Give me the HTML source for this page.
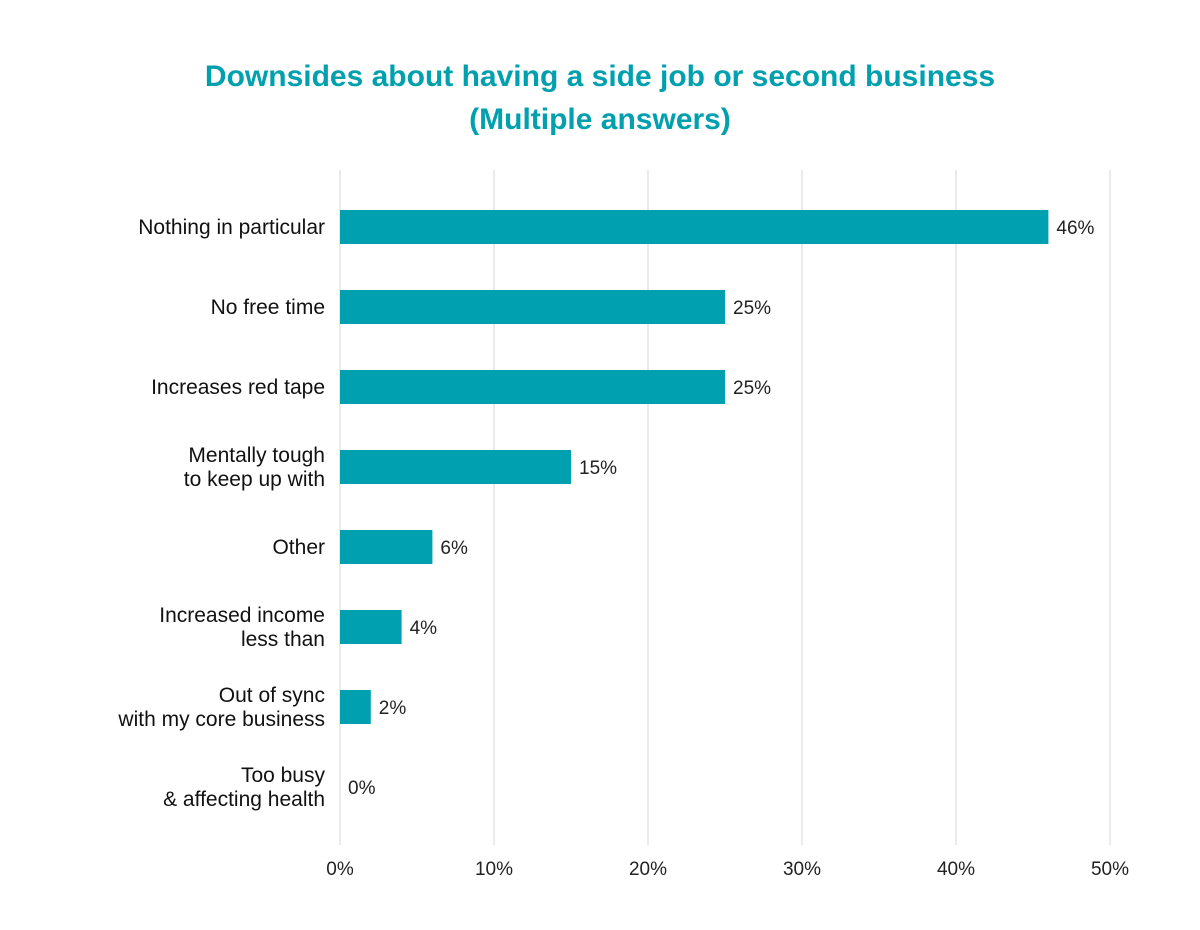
<!DOCTYPE html>
<html><head><meta charset="utf-8"><style>
html,body{margin:0;padding:0;background:#fff;}
svg{display:block;font-family:"Liberation Sans",Arial,sans-serif;}
</style></head><body>
<svg id="chart" width="1200" height="930" viewBox="0 0 1200 930" xmlns="http://www.w3.org/2000/svg">
<text x="600" y="86" text-anchor="middle" font-size="30" font-weight="bold" fill="#00a0ae">Downsides about having a side job or second business</text>
<text x="600" y="129" text-anchor="middle" font-size="30" font-weight="bold" fill="#00a0ae">(Multiple answers)</text>
<g id="grid"></g>
<g id="bars"></g>
<g id="xticks"></g>
</svg>
<script>
const categories = [["Nothing in particular"],["No free time"],["Increases red tape"],["Mentally tough","to keep up with"],["Other"],["Increased income","less than"],["Out of sync","with my core business"],["Too busy","& affecting health"]];
const values = [46,25,25,15,6,4,2,0];
const valueLabels = ["46%","25%","25%","15%","6%","4%","2%","0%"];
const ticks = [0,10,20,30,40,50];
const tickLabels = ["0%","10%","20%","30%","40%","50%"];

const NS="http://www.w3.org/2000/svg";
const x0=340, x1=1110, xmax=50;
const xs=v=>x0+(v/xmax)*(x1-x0);
const yTop=187, step=80, barH=34;
const yc=i=>yTop+step*i+step/2;
function mk(tag,attrs,parent){const e=document.createElementNS(NS,tag);for(const k in attrs)e.setAttribute(k,attrs[k]);parent.appendChild(e);return e;}
const grid=document.getElementById('grid'),bars=document.getElementById('bars'),xt=document.getElementById('xticks');
ticks.forEach((t,i)=>{
  const l=mk('line',{x1:xs(t),x2:xs(t),y1:170,y2:845,stroke:'#e3e3e3','stroke-width':1.5},grid);
  
  
  const tx=mk('text',{x:xs(t),y:875,'text-anchor':'middle','font-size':19,fill:'#222'},xt);
  tx.textContent=tickLabels[i];
  
  
});
values.forEach((v,i)=>{
  const c=yc(i);
  const r=mk('rect',{x:x0,y:c-barH/2,width:xs(v)-x0,height:barH,fill:'#00a0b0'},bars);
  
  
  const vl=mk('text',{x:xs(v)+(v>0?8:8),y:c+7,'font-size':19,fill:'#222'},bars);
  vl.textContent=valueLabels[i];
  
  
  const lines=categories[i];
  lines.forEach((s,j)=>{
    const dy=lines.length===1?7:(j===0?-5:19);
    const t=mk('text',{x:325,y:c+dy,'text-anchor':'end','font-size':21,fill:'#111'},bars);
    t.textContent=s;
    
    
  });
});
</script>
</body></html>
